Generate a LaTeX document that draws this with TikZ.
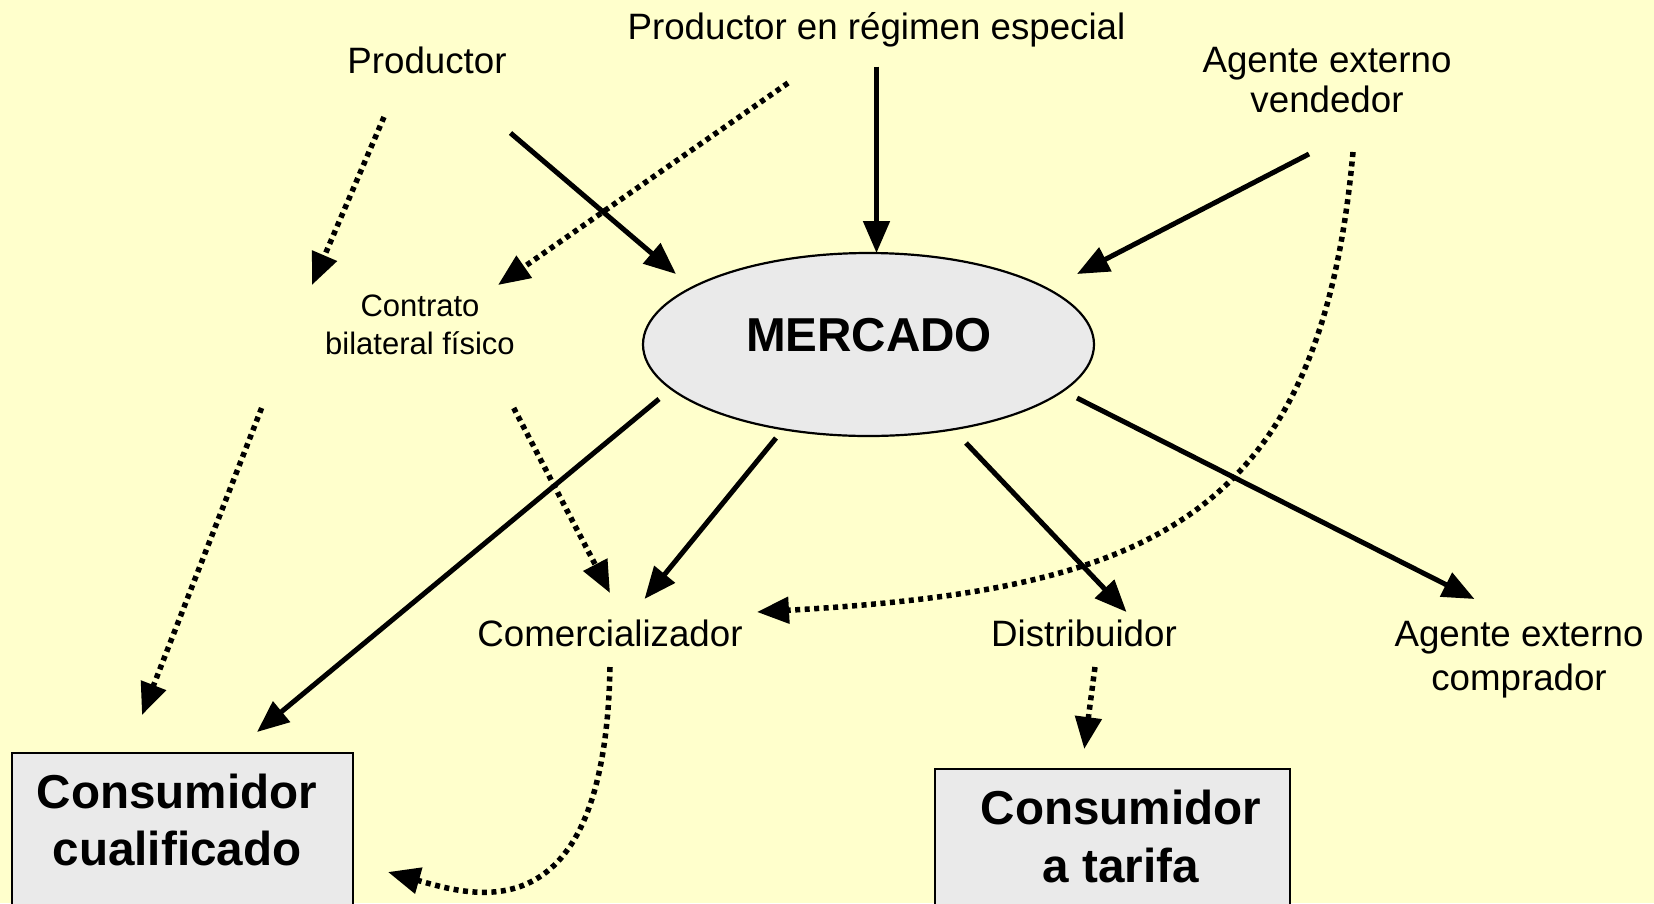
\documentclass[tikz,border=0pt]{standalone}
\usepackage{fontspec}
\setmainfont{Liberation Sans}
\usetikzlibrary{arrows.meta,shapes.geometric,calc}
\definecolor{bg}{HTML}{FFFFCC}
\definecolor{boxgray}{HTML}{EAEAEA}
\begin{document}
\begin{tikzpicture}[x=1pt,y=-1pt,
  lbl/.style={inner sep=0pt, font=\fontsize{36.7}{40}\selectfont, align=center},
  smalllbl/.style={inner sep=0pt, font=\fontsize{31}{38}\selectfont, align=center},
  boldlbl/.style={inner sep=0pt, font=\fontsize{47.6}{57.5}\selectfont\bfseries, align=center},
  graybox/.style={draw, fill=boxgray, line width=2pt, inner sep=0pt, anchor=north west},
  solidarr/.style={line width=5pt, -{Triangle[length=32pt,width=26pt]}},
  dotarr/.style={line width=5.5pt, dash pattern=on 5pt off 4.5pt, -{Triangle[length=32pt,width=26pt]}},
  ]
\clip (0,0) rectangle (1654,903);
\fill[bg] (0,0) rectangle (1654,903);

% nodes
\node[lbl] (pre) at (876.5,30) {Productor en régimen especial};
\node[lbl] (prod) at (427,60) {Productor};
\node[lbl] (agv) at (1327,80) {Agente externo\\vendedor};
\node[smalllbl] (cbf) at (420,325) {Contrato\\bilateral físico};
\node[ellipse, draw, line width=2.2pt, fill=boxgray, minimum width=451pt, minimum height=183pt, inner sep=0pt] (merc) at (868.5,344.5) {};
\node[inner sep=0pt, font=\fontsize{47.6}{57}\selectfont\bfseries] (merctext) at (869,335) {MERCADO};
\node[lbl] (com) at (610,633) {Comercializador};
\node[lbl] (dis) at (1084,633) {Distribuidor};
\node[inner sep=0pt, font=\fontsize{36.7}{44}\selectfont, align=center] (agc) at (1519,659.5) {Agente externo\\comprador};
\node[graybox, minimum width=341pt, minimum height=198pt] (cq) at (11,752) {};
\node[boldlbl] (cqtext) at (177,820) {Consumidor\\cualificado};
\node[graybox, minimum width=355.5pt, minimum height=182pt] (ct) at (933.5,768) {};
\node[boldlbl] (cttext) at (1121,836.5) {Consumidor\\a tarifa};

% solid arrows
\draw[solidarr] ($(prod)+(83.5,73)$) -- ($(merc)+(-192.5,-70.5)$);
\draw[solidarr] ($(pre)+(0,36.5)$) -- ($(merc)+(8,-91.5)$);
\draw[solidarr] ($(agv)+(-18,74)$) -- ($(merc)+(208.5,-70.5)$);
\draw[solidarr] ($(merc)+(-209.5,54.5)$) -- ($(cq.north)+(74.5,-20)$);
\draw[solidarr] ($(merc)+(-92.5,93.5)$) -- ($(com)+(34.5,-34)$);
\draw[solidarr] ($(merc)+(97.5,98.5)$) -- ($(dis)+(42.5,-21)$);
\draw[solidarr] ($(merc)+(208.5,53.5)$) -- ($(agc)+(-44.5,-60.5)$);

% dotted arrows
\draw[dotarr] ($(prod)+(-43,57)$) -- ($(cbf)+(-108,-40)$);
\draw[dotarr] ($(pre)+(-88.5,53)$) -- ($(cbf)+(78,-40)$);
\draw[dotarr] ($(cbf)+(-158.4,83)$) -- ($(cq.north)+(-40.5,-37)$);
\draw[dotarr] ($(cbf)+(93.7,83)$) -- ($(com)+(0,-40)$);
\draw[dotarr] ($(agv)+(26,72)$) .. controls (1320,520) and (1150,590) .. ($(com)+(147,-21)$);
\draw[dotarr] ($(com)+(0,34)$) .. controls (605,940) and (470,895) .. ($(cq.east)+(34,20)$);
\draw[dotarr] ($(dis)+(11,34)$) -- ($(ct.north)+(-28,-19)$);
\end{tikzpicture}
\end{document}
